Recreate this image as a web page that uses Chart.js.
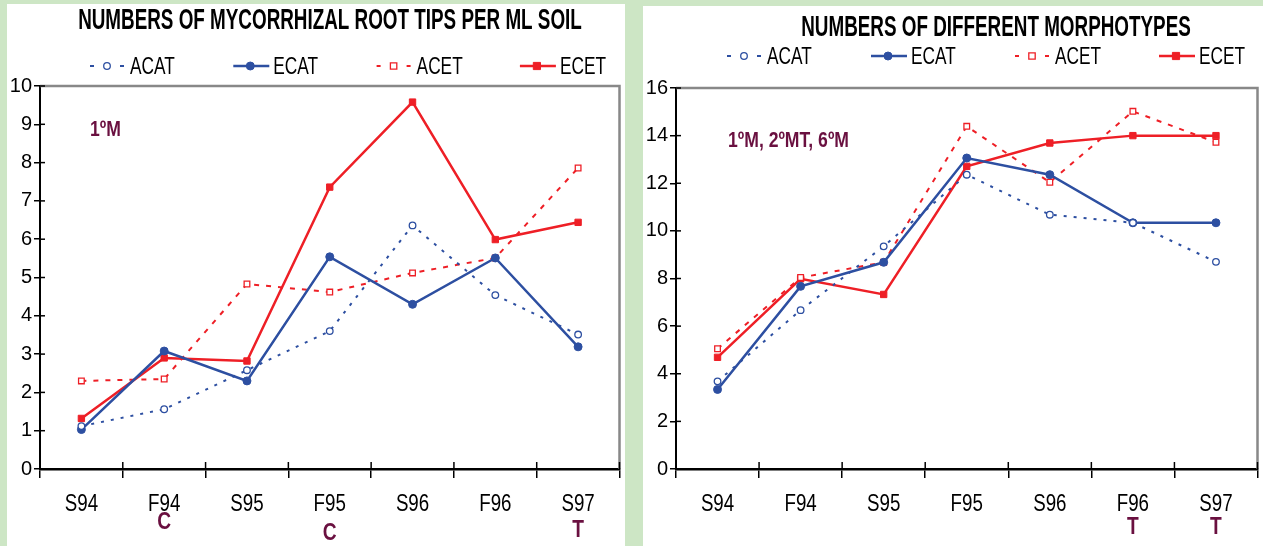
<!DOCTYPE html>
<html>
<head>
<meta charset="utf-8">
<script src="https://cdn.jsdelivr.net/npm/chart.js@4.4.1/dist/chart.umd.min.js"></script>
<style>
body{margin:0;background:#cde6c5;width:1263px;height:546px;position:relative;overflow:hidden}
.panel{position:absolute;background:#fff}
#p1{left:7px;top:4px;width:618px;height:542px}
#p2{left:643px;top:6px;width:620px;height:540px}
</style>
</head>
<body>
<div class="panel" id="p1"><canvas id="c1"></canvas></div>
<div class="panel" id="p2"><canvas id="c2"></canvas></div>
<script>
// dati
const seasons = ['S94','F94','S95','F95','S96','F96','S97'];
const seriesNames = ['ACAT','ECAT','ACET','ECET'];

const tipsACAT = [1.12, 1.56, 2.58, 3.60, 6.36, 4.54, 3.51];
const tipsECAT = [1.03, 3.08, 2.30, 5.54, 4.30, 5.51, 3.19];
const tipsACET = [2.30, 2.35, 4.83, 4.62, 5.12, 5.51, 7.86];
const tipsECET = [1.32, 2.90, 2.82, 7.36, 9.58, 5.99, 6.44];
const tipsMarks = ['', 'C', '', 'C', '', '', 'T'];
const tipsNote = '1ºM';

const morphACAT = [3.68, 6.67, 9.35, 12.36, 10.68, 10.34, 8.70];
const morphECAT = [3.34, 7.67, 8.68, 13.06, 12.36, 10.34, 10.34];
const morphACET = [5.05, 8.04, 8.68, 14.39, 12.04, 15.02, 13.72];
const morphECET = [4.69, 7.99, 7.33, 12.71, 13.69, 14.00, 14.00];
const morphMarks = ['', '', '', '', '', 'T', 'T'];
const morphNote = '1ºM, 2ºMT, 6ºM';

const BLU = '#2d4fa1';
const ROSSO = '#ee1f26';
const VINO = '#6a1040';
const FONT = '"Liberation Sans", Arial, sans-serif';

function creaDataset(nome, dati){
    let ds = {label: nome, data: dati, fill: false, tension: 0};
    if (nome == 'ACAT'){
        Object.assign(ds, {borderColor: BLU, borderWidth: 2, borderDash: [3,7],
            pointStyle: 'circle', pointRadius: 3.3, pointBackgroundColor: '#fff', pointBorderColor: BLU, pointBorderWidth: 1.3});
    } else if (nome == 'ECAT'){
        Object.assign(ds, {borderColor: BLU, borderWidth: 2.5,
            pointStyle: 'circle', pointRadius: 4, pointBackgroundColor: BLU, pointBorderColor: BLU, pointBorderWidth: 1});
    } else if (nome == 'ACET'){
        Object.assign(ds, {borderColor: ROSSO, borderWidth: 2, borderDash: [5,7],
            pointStyle: 'rect', pointRadius: 4, pointBackgroundColor: '#fff', pointBorderColor: ROSSO, pointBorderWidth: 1.3});
    } else {
        Object.assign(ds, {borderColor: ROSSO, borderWidth: 2.5,
            pointStyle: 'rect', pointRadius: 4.5, pointBackgroundColor: ROSSO, pointBorderColor: ROSSO, pointBorderWidth: 1});
    }
    return ds;
}

// testo "stretto" (il font narrow non c'e')
function scriviStretto(ctx, testo, x, y, sx, align){
    ctx.save();
    ctx.translate(x, y);
    ctx.scale(sx, 1);
    ctx.textAlign = align;
    ctx.textBaseline = 'middle';
    ctx.fillText(testo, 0, 0);
    ctx.restore();
}

// titolo, legenda, cornice, note
const decoPlugin = {
    id: 'deco',
    afterDraw(chart, args, opt){
        let ctx = chart.ctx;
        let area = chart.chartArea;
        let xs = chart.scales.x;
        let ys = chart.scales.y;
        ctx.save();

        // cornice grigia sopra e a destra
        ctx.strokeStyle = '#888';
        ctx.lineWidth = 2.5;
        ctx.beginPath();
        ctx.moveTo(area.left, area.top);
        ctx.lineTo(area.right, area.top);
        ctx.lineTo(area.right, area.bottom);
        ctx.stroke();

        // tacche interne
        ctx.strokeStyle = '#000';
        ctx.lineWidth = 1.5;
        for (let i = 0; i <= seasons.length; i++){
            let x = xs.getPixelForValue(i - 0.5);
            ctx.beginPath();
            ctx.moveTo(x, area.bottom);
            ctx.lineTo(x, area.bottom - 7);
            ctx.stroke();
        }
        for (let t of ys.ticks){
            let y = ys.getPixelForValue(t.value);
            ctx.beginPath();
            ctx.moveTo(area.left, y);
            ctx.lineTo(area.left + 5, y);
            ctx.stroke();
        }

        // etichette asse x
        ctx.fillStyle = '#000';
        ctx.font = '24px ' + FONT;
        chart.data.labels.forEach((l, i) => {
            scriviStretto(ctx, l, xs.getPixelForValue(i), area.bottom + 35, 0.78, 'center');
        });

        // titolo
        ctx.font = 'bold 29px ' + FONT;
        scriviStretto(ctx, opt.title, opt.titleX, opt.titleY, opt.titleScale, 'center');

        // legenda
        ctx.font = '24px ' + FONT;
        chart.data.datasets.forEach((ds, i) => {
            let x0 = opt.legendX + i * opt.legendStep;
            let y = opt.legendY;
            ctx.strokeStyle = ds.borderColor;
            ctx.lineWidth = ds.borderWidth;
            ctx.beginPath();
            if (ds.borderDash){
                ctx.moveTo(x0, y); ctx.lineTo(x0 + 4, y);
                ctx.moveTo(x0 + 30, y); ctx.lineTo(x0 + 34, y);
            } else {
                ctx.moveTo(x0, y); ctx.lineTo(x0 + 36, y);
            }
            ctx.stroke();
            ctx.fillStyle = ds.pointBackgroundColor;
            ctx.strokeStyle = ds.pointBorderColor;
            ctx.lineWidth = ds.pointBorderWidth;
            let cx = x0 + 17;
            ctx.beginPath();
            if (ds.pointStyle == 'circle') ctx.arc(cx, y, ds.pointRadius, 0, Math.PI * 2);
            else ctx.rect(cx - ds.pointRadius * 0.8, y - ds.pointRadius * 0.8, ds.pointRadius * 1.6, ds.pointRadius * 1.6);
            ctx.fill();
            ctx.stroke();
            ctx.fillStyle = '#000';
            scriviStretto(ctx, ds.label, x0 + 40, y + 1, 0.72, 'left');
        });

        // note in rosso scuro
        ctx.fillStyle = VINO;
        ctx.font = 'bold 22px ' + FONT;
        scriviStretto(ctx, opt.note, opt.noteX, opt.noteY, 0.8, 'left');
        ctx.font = 'bold 24px ' + FONT;
        opt.marks.forEach((m, i) => {
            if (m) scriviStretto(ctx, m, xs.getPixelForValue(i), opt.markY[i], 0.8, 'center');
        });
        ctx.restore();
    }
};

function disegnaGrafico(id, serie, maxY, passo, deco, padRight){
    let ctx = document.getElementById(id);
    return new Chart(ctx, {
        type: 'line',
        data: {
            labels: seasons,
            datasets: serie.map((d, i) => creaDataset(seriesNames[i], d))
        },
        options: {
            responsive: true,
            maintainAspectRatio: false,
            animation: false,
            layout: {padding: {top: 82, right: padRight, left: 0, bottom: 0}},
            plugins: {
                legend: {display: false},
                tooltip: {enabled: false},
                deco: deco
            },
            scales: {
                x: {
                    offset: true,
                    grid: {offset: true, drawOnChartArea: false, tickLength: 9, color: '#000', lineWidth: 1.5},
                    border: {color: '#000', width: 2.5},
                    ticks: {color: 'rgba(0,0,0,0)', font: {size: 19}, padding: 19},
                    afterFit(s){ s.height = 77; }
                },
                y: {
                    min: 0, max: maxY,
                    grid: {drawOnChartArea: false, tickLength: 6, color: '#000', lineWidth: 1.5},
                    border: {color: '#000', width: 2},
                    ticks: {stepSize: passo, color: '#000', font: {family: FONT, size: 20}, padding: 2},
                    afterFit(s){ s.width = 33; }
                }
            }
        },
        plugins: [decoPlugin]
    });
}

window.onload = () => {
    disegnaGrafico('c1', [tipsACAT, tipsECAT, tipsACET, tipsECET], 10, 1, {
        title: 'NUMBERS OF MYCORRHIZAL ROOT TIPS PER ML SOIL', titleX: 323, titleY: 17, titleScale: 0.65,
        legendX: 83, legendStep: 143.3, legendY: 62,
        note: tipsNote, noteX: 83, noteY: 126,
        marks: tipsMarks, markY: [0, 518, 0, 529, 0, 0, 526]
    }, 5);
    disegnaGrafico('c2', [morphACAT, morphECAT, morphACET, morphECET], 16, 2, {
        title: 'NUMBERS OF DIFFERENT MORPHOTYPES', titleX: 353, titleY: 22, titleScale: 0.65,
        legendX: 84, legendStep: 144, legendY: 50,
        note: morphNote, noteX: 85, noteY: 135,
        marks: morphMarks, markY: [0, 0, 0, 0, 0, 521, 521]
    }, 2);
}
</script>
</body>
</html>
